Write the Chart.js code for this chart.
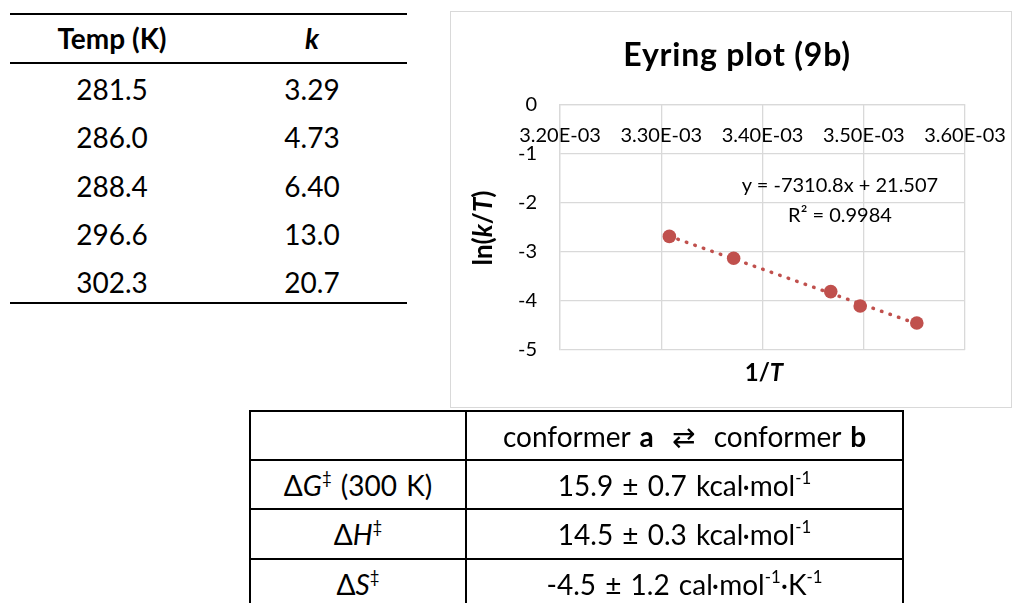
<!DOCTYPE html>
<html>
<head>
<meta charset="utf-8">
<title>Eyring plot (9b)</title>
<script src="https://cdn.jsdelivr.net/npm/chart.js@4.4.1/dist/chart.umd.min.js"></script>
<style>
  html, body { margin: 0; padding: 0; background: #fff; }
  body {
    position: relative; width: 1012px; height: 603px; overflow: hidden;
    font-family: Lato, "DejaVu Sans", sans-serif; color: #000;
  }
  .rule { position: absolute; background: #000; }
  .cell {
    position: absolute; text-align: center; white-space: nowrap;
    height: 48px; line-height: 48px;
  }
  #rates .cell { font-size: 28px; }
  #rates .head { font-size: 28px; font-weight: bold; }
  #params .cell { font-size: 28px; word-spacing: 2px; }
  sup { font-size: 60%; line-height: 0; vertical-align: 0.7em; }
  #chartBox {
    position: absolute; left: 450px; top: 11px; width: 560px; height: 395px;
    border: 1px solid #d9d9d9;
  }
  #chartBox canvas { display: block; }
  .label { position: absolute; white-space: nowrap; text-align: center; }
  #plotTitle {
    left: 457px; top: 35px; width: 560px; font-size: 32px; line-height: 38px;
    font-weight: bold; letter-spacing: 0.8px;
  }
  #yTitle {
    left: 382px; top: 213px; width: 200px; font-size: 26px; line-height: 30px; font-weight: bold;
    transform: rotate(-90deg);
  }
  #xTitle { left: 664px; top: 357px; width: 200px; font-size: 24px; line-height: 30px; font-weight: bold; }
  #fitLabel { left: 740px; top: 169px; width: 200px; font-size: 20px; line-height: 30px; }
</style>
</head>
<body>

<div id="rates"></div>

<div id="chartBox"><canvas id="eyring" width="560" height="395"></canvas></div>
<div id="plotTitle" class="label">Eyring plot (9b)</div>
<div id="yTitle" class="label">ln(<i>k</i>/<i>T</i>)</div>
<div id="xTitle" class="label">1/<i>T</i></div>
<div id="fitLabel" class="label"></div>

<div id="params">
  <div class="rule" style="left:249px; top:410px; width:655px; height:2px"></div>
  <div class="rule" style="left:249px; top:459px; width:655px; height:2px"></div>
  <div class="rule" style="left:249px; top:508px; width:655px; height:2px"></div>
  <div class="rule" style="left:249px; top:558px; width:655px; height:2px"></div>
  <div class="rule" style="left:249px; top:410px; width:2px; height:200px"></div>
  <div class="rule" style="left:465px; top:410px; width:2px; height:200px"></div>
  <div class="rule" style="left:902px; top:410px; width:2px; height:200px"></div>

  <div class="cell" style="left:467px; width:435px; top:412px">conformer <b>a</b>&nbsp; ⇄ &nbsp;conformer <b>b</b></div>

  <div class="cell" style="left:251px; width:214px; top:461px">Δ<i>G</i><sup>‡</sup> (300 K)</div>
  <div class="cell" style="left:467px; width:435px; top:461px">15.9 ± 0.7 kcal·mol<sup>-1</sup></div>

  <div class="cell" style="left:251px; width:214px; top:510px">Δ<i>H</i><sup>‡</sup></div>
  <div class="cell" style="left:467px; width:435px; top:510px">14.5 ± 0.3 kcal·mol<sup>-1</sup></div>

  <div class="cell" style="left:251px; width:214px; top:560px">Δ<i>S</i><sup>‡</sup></div>
  <div class="cell" style="left:467px; width:435px; top:560px">-4.5 ± 1.2 cal·mol<sup>-1</sup>·K<sup>-1</sup></div>
</div>

<script>
// measured rate constants
const tempK = [281.5, 286.0, 288.4, 296.6, 302.3];
const rateK = [3.29, 4.73, 6.40, 13.0, 20.7];

// Eyring coordinates: 1/T and ln(k/T)
const invT = [0.0035524, 0.0034965, 0.0034674, 0.0033715, 0.0033080];
const lnKT = [-4.4493, -4.1021, -3.8081, -3.1274, -2.6813];

// linear fit reported by the spreadsheet
const fitSlope = -7310.8;
const fitIntercept = 21.507;
const fitR2 = 0.9984;

const xTicks = [0.0032, 0.0033, 0.0034, 0.0035, 0.0036];
const xTickLabels = ['3.20E-03', '3.30E-03', '3.40E-03', '3.50E-03', '3.60E-03'];
const yTicks = [0, -1, -2, -3, -4, -5];

const RED = '#C0504D';
const GRID = '#d9d9d9';

// ---- rate table ----
const rates = document.getElementById('rates');
function rule(top) {
  const d = document.createElement('div');
  d.className = 'rule';
  d.style.cssText = `left:10px; top:${top}px; width:397px; height:2px`;
  rates.appendChild(d);
}
function cell(html, left, width, top, cls) {
  const d = document.createElement('div');
  d.className = 'cell' + (cls ? ' ' + cls : '');
  d.style.cssText = `left:${left}px; width:${width}px; top:${top}px`;
  d.innerHTML = html;
  rates.appendChild(d);
}
rule(13); rule(62); rule(302);
cell('Temp (K)', 12, 200, 14, 'head');
cell('<i>k</i>', 212, 200, 14, 'head');
tempK.forEach((t, i) => {
  const top = 65 + i * 48.25;
  cell(t.toFixed(1), 12, 200, top);
  cell(rateK[i].toPrecision(3), 212, 200, top);
});

// ---- trendline label ----
document.getElementById('fitLabel').innerHTML =
  `y = ${fitSlope}x + ${fitIntercept}<br>R² = ${fitR2}`;

// ---- Eyring plot ----
const points = invT.map((x, i) => ({ x, y: lnKT[i] }));
const xLo = Math.min(...invT), xHi = Math.max(...invT);
const fitLine = [xLo, xHi].map(x => ({ x, y: fitSlope * x + fitIntercept }));

const tickFont = { family: 'Lato', size: 20 };

new Chart(document.getElementById('eyring'), {
  type: 'scatter',
  data: {
    datasets: [
      {
        label: 'Linear fit',
        data: fitLine,
        showLine: true,
        borderColor: RED,
        borderWidth: 3.5,
        borderDash: [0.5, 8.5],
        borderCapStyle: 'round',
        pointRadius: 0,
        pointHoverRadius: 0,
        order: 0
      },
      {
        label: 'ln(k/T)',
        data: points,
        backgroundColor: RED,
        borderColor: RED,
        borderWidth: 0,
        pointRadius: 6.8,
        pointHoverRadius: 6.8,
        order: 1
      }
    ]
  },
  options: {
    responsive: false,
    animation: false,
    events: [],
    layout: { padding: { left: 0, top: 93, right: 46, bottom: 57 } },
    plugins: {
      legend: { display: false },
      tooltip: { enabled: false }
    },
    scales: {
      x: {
        type: 'linear',
        min: 0.0032,
        max: 0.0036,
        // axis crosses at y = 0, so the labels hang just under the top edge
        position: { y: 0 },
        afterBuildTicks: s => { s.ticks = xTicks.map(v => ({ value: v })); },
        ticks: {
          callback: (v, i) => xTickLabels[i],
          color: '#000',
          font: tickFont,
          padding: 0,
          maxRotation: 0,
          autoSkip: false
        },
        grid: {
          color: GRID, lineWidth: 1.3,
          drawTicks: true, tickLength: 19, tickColor: 'rgba(0,0,0,0)'
        },
        border: { color: GRID, width: 1.3 }
      },
      y: {
        type: 'linear',
        min: -5,
        max: 0,
        afterBuildTicks: s => { s.ticks = yTicks.map(v => ({ value: v })); },
        afterFit: s => { s.width = 109; },
        ticks: {
          color: '#000',
          font: tickFont,
          padding: 23
        },
        grid: { color: GRID, lineWidth: 1.3, drawTicks: false },
        border: { color: GRID, width: 1.3 }
      }
    }
  }
});
</script>
</body>
</html>
